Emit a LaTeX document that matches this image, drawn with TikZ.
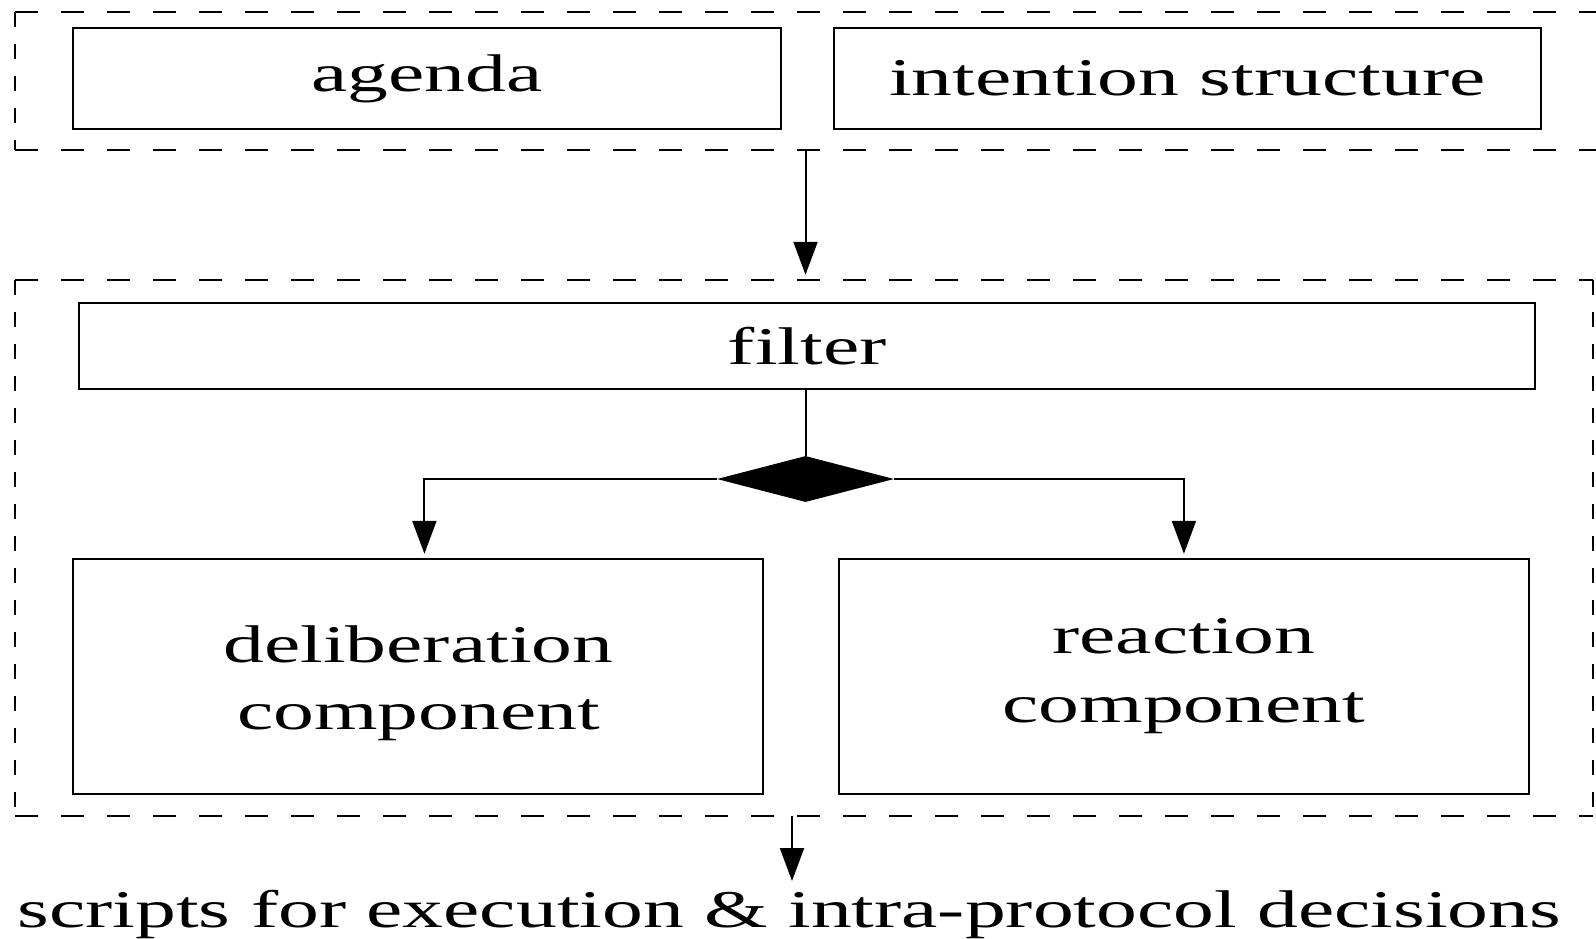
\documentclass[tikz,border=0pt]{standalone}
\usepackage{fontspec}
\setmainfont[FakeStretch=1.54]{Liberation Serif}
\usetikzlibrary{arrows.meta,shapes.geometric}
\begin{document}
\begin{tikzpicture}[x=1pt,y=-1pt,
  box/.style={draw,line width=2pt,inner sep=0pt,font=\fontsize{53}{67}\selectfont,align=center},
  grp/.style={draw=none,inner sep=0pt},
  hdash/.style={line width=2pt,dash pattern=on 23pt off 23pt},
  vdash/.style={line width=2pt,dash pattern=on 15pt off 17pt},
  arr/.style={line width=2pt,-{Triangle[length=33pt,width=24pt]}},
  conn/.style={line width=2pt},
  lbl/.style={inner sep=0pt,font=\fontsize{53}{67}\selectfont}]
\useasboundingbox (0,0) rectangle (1596,938);
\clip (0,0) rectangle (1596,938);
% groups
\node[grp,minimum width=1620pt,minimum height=137.6pt] (grpA) at (825,80.8) {};
\node[grp,minimum width=1577.7pt,minimum height=536pt] (grpB) at (804.2,548) {};
\draw[hdash] (grpA.north west) -- (grpA.north east);
\draw[hdash] (grpA.south west) -- (grpA.south east);
\draw[vdash] (grpA.north west) -- (grpA.south west);
\draw[hdash] (grpB.north west) -- (grpB.north east);
\draw[hdash] (grpB.south west) -- (grpB.south east);
\draw[vdash] (grpB.north west) -- (grpB.south west);
\draw[vdash] (grpB.north east) -- (grpB.south east);
% boxes
\node[box,minimum width=707.4pt,minimum height=101.8pt] (agenda) at (427,78.4) {agenda};
\node[box,minimum width=707.4pt,minimum height=101.8pt] (intent) at (1187.3,78.4) {intention structure};
\node[box,minimum width=1455.6pt,minimum height=85.5pt] (filter) at (807.2,346) {filter};
\node[box,minimum width=690pt,minimum height=235.2pt] (delib) at (418.4,676.4) {\rule{0pt}{50pt}deliberation\\component};
\node[box,minimum width=690.3pt,minimum height=235.2pt] (react) at (1183.9,676.4) {reaction\\[2pt]component};
\node[diamond,fill=black,draw=none,inner sep=0pt,minimum width=177pt,minimum height=46pt] (dia) at (805.5,479) {};
\node[lbl,anchor=base] (out) at (789.4,927) {scripts for execution \& intra-protocol decisions};
\coordinate (outtop) at (792,881);
% connectors
\draw[arr,shorten >=5pt] (grpA.south -| dia.north) -- (grpB.north -| dia.north);
\draw[conn] (dia.north |- filter.south) -- (dia.north);
\draw[arr,shorten >=4pt] (dia.west) -| ([xshift=6pt]delib.north);
\draw[arr,shorten >=4pt] (dia.east) -| (react.north);
\draw[arr] (grpB.south -| outtop) -- (outtop);
\end{tikzpicture}
\end{document}
